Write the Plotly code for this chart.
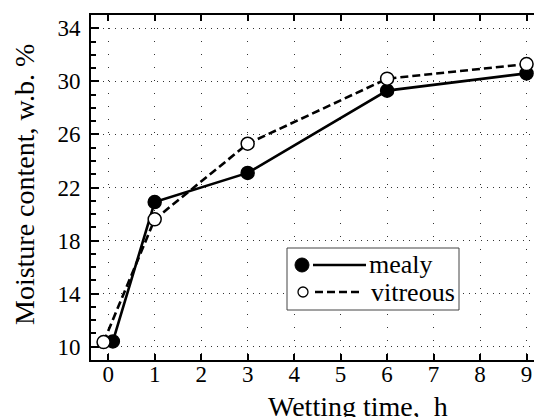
import plotly.graph_objects as go

# ---- data ----
time_mealy = [0.1, 1, 3, 6, 9]
mealy = [10.4, 20.9, 23.1, 29.3, 30.6]
time_vitreous = [-0.1, 1, 3, 6, 9]
vitreous = [10.35, 19.6, 25.3, 30.2, 31.3]
x_ticks = [0, 1, 2, 3, 4, 5, 6, 7, 8, 9]
y_ticks = [10, 14, 18, 22, 26, 30, 34]

W, H = 534, 417
L, T, B, R = 91, 15, 57, 0
FONT = "Liberation Serif, Times New Roman, serif"

fig = go.Figure()
fig.add_trace(go.Scatter(
    x=time_mealy, y=mealy, mode="lines+markers", name="mealy",
    line=dict(color="black", width=2.6),
    marker=dict(symbol="circle", size=13, color="black", line=dict(color="black", width=1.5)),
    showlegend=False, cliponaxis=False))
fig.add_trace(go.Scatter(
    x=time_vitreous, y=vitreous, mode="lines+markers", name="vitreous",
    line=dict(color="black", width=2.6, dash="8px,4px"),
    marker=dict(symbol="circle", size=13, color="white", line=dict(color="black", width=1.5)),
    showlegend=False, cliponaxis=False))

pw, ph = W - L - R, H - T - B
def px(x):
    return (x - L) / pw
def py(y):
    return (H - B - y) / ph

shapes = []
annotations = []
# manual legend
shapes.append(dict(type="rect", xref="paper", yref="paper",
                   x0=px(287), x1=px(459), y0=py(310), y1=py(248),
                   line=dict(color="#444", width=1), fillcolor="white", layer="above"))
shapes.append(dict(type="circle", xref="paper", yref="paper",
                   x0=px(295), x1=px(309), y0=py(272), y1=py(258),
                   line=dict(color="black", width=1), fillcolor="black", layer="above"))
shapes.append(dict(type="line", xref="paper", yref="paper",
                   x0=px(313), x1=px(366), y0=py(265), y1=py(265),
                   line=dict(color="black", width=2.6), layer="above"))
shapes.append(dict(type="circle", xref="paper", yref="paper",
                   x0=px(298), x1=px(308), y0=py(297), y1=py(287),
                   line=dict(color="black", width=1.3), fillcolor="white", layer="above"))
shapes.append(dict(type="line", xref="paper", yref="paper",
                   x0=px(315), x1=px(361), y0=py(292), y1=py(292),
                   line=dict(color="black", width=2.6, dash="8px,4px"), layer="above"))
annotations.append(dict(text="mealy", xref="paper", yref="paper", x=px(367), y=py(264),
                        xanchor="left", yanchor="middle", showarrow=False,
                        font=dict(family=FONT, size=26, color="black")))
annotations.append(dict(text="vitreous", xref="paper", yref="paper", x=px(369), y=py(292),
                        xanchor="left", yanchor="middle", showarrow=False,
                        font=dict(family=FONT, size=26, color="black")))
# axis titles
annotations.append(dict(text="Wetting time,  h", xref="paper", yref="paper",
                        x=px(358), y=py(406), xanchor="center", yanchor="middle",
                        showarrow=False, font=dict(family=FONT, size=28, color="black")))
annotations.append(dict(text="Moisture content, w.b. %", xref="paper", yref="paper",
                        x=px(24), y=py(185), xanchor="center", yanchor="middle",
                        textangle=-90, showarrow=False,
                        font=dict(family=FONT, size=28, color="black")))

fig.update_layout(
    width=W, height=H,
    margin=dict(l=L, r=R, t=T, b=B, autoexpand=False),
    paper_bgcolor="white", plot_bgcolor="white",
    font=dict(family=FONT, size=23, color="black"),
    shapes=shapes, annotations=annotations,
    showlegend=False,
)
fig.update_xaxes(
    range=[-0.37, 9.16], tickmode="array", tickvals=x_ticks, ticktext=[str(v) for v in x_ticks],
    showline=True, linecolor="black", linewidth=2, mirror="ticks",
    ticks="inside", ticklen=6, tickwidth=1.5, tickcolor="black",
    showgrid=True, gridcolor="#333", gridwidth=1, griddash="1px,12px",
    zeroline=False, tickfont=dict(family=FONT, size=23), automargin=False,
    ticklabelstandoff=-8,
)
fig.update_yaxes(
    range=[9.0, 35.0], tickmode="array", tickvals=y_ticks, ticktext=[str(v) for v in y_ticks],
    showline=True, linecolor="black", linewidth=2, mirror=False,
    ticks="inside", ticklen=8, tickwidth=1.5, tickcolor="black",
    minor=dict(ticks="inside", ticklen=5, tickwidth=1.5, tickcolor="black", dtick=1, showgrid=False),
    showgrid=True, gridcolor="#333", gridwidth=1, griddash="1px,5px",
    zeroline=False, tickfont=dict(family=FONT, size=23), automargin=False,
    ticklabelstandoff=4,
)

fig.write_html("out.html", config={"displayModeBar": False},
               post_script="document.body.style.margin='0';document.body.style.padding='0';")
